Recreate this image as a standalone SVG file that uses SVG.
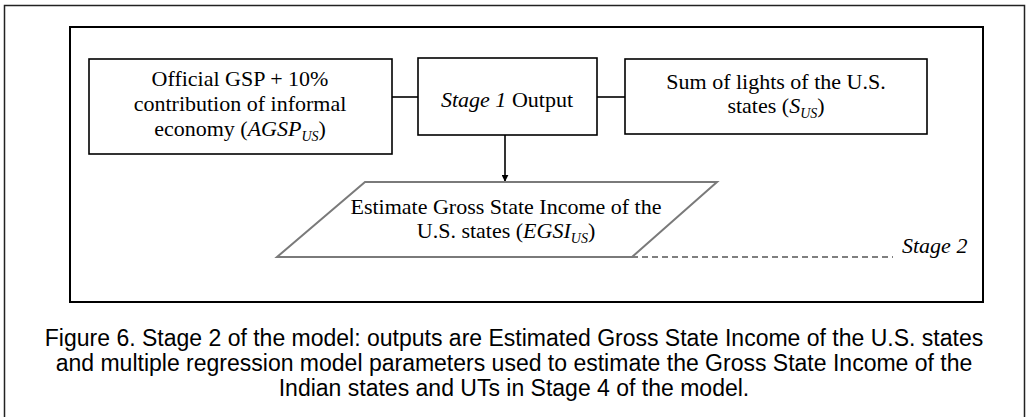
<svg xmlns="http://www.w3.org/2000/svg" width="1028" height="417" viewBox="0 0 1028 417">
<style>
.t{font-family:"Liberation Serif","Times New Roman",serif;font-size:22px;fill:#000;text-anchor:middle}
.i{font-style:italic}
.sub{font-style:italic;font-size:14px}
.cap{font-family:"Liberation Sans",Arial,sans-serif;font-size:23px;fill:#000;text-anchor:middle}
.box{fill:#fff;stroke:#000;stroke-width:1.6}
.ln{stroke:#000;stroke-width:1.6;fill:none}
</style>
<defs>
<marker id="arr" viewBox="0 0 10 10" refX="9" refY="5" markerWidth="7" markerHeight="7" markerUnits="userSpaceOnUse" orient="auto">
<path d="M0,0 L10,5 L0,10 z" fill="#000"/>
</marker>
</defs>
<rect width="1028" height="417" fill="#fff"/>
<g id="outer-frame"><path d="M4.5,420 V5.5 H1024.5 V420" fill="none" stroke="#222" stroke-width="1.5"/></g>
<g id="inner-frame"><rect x="70" y="27" width="913" height="275" fill="#fff" stroke="#000" stroke-width="2"/></g>
<g id="connectors">
<line class="ln" x1="392" y1="97" x2="418" y2="97"/>
<line class="ln" x1="597" y1="97" x2="625" y2="97"/>
<line class="ln" x1="505" y1="135" x2="505" y2="181" marker-end="url(#arr)"/>
<line x1="632" y1="257" x2="893" y2="257" stroke="#000" stroke-width="1.2" stroke-dasharray="6,4"/>
</g>
<g id="node-agsp">
<rect class="box" x="89" y="59" width="303" height="95"/>
<text class="t" x="240" y="86">Official GSP + 10%</text>
<text class="t" x="240" y="111">contribution of informal</text>
<text class="t" x="240" y="136">economy (<tspan class="i">AGSP</tspan><tspan class="sub" dy="5">US</tspan><tspan dy="-5">)</tspan></text>
</g>
<g id="node-stage1">
<rect class="box" x="418" y="58" width="179" height="77"/>
<text class="t" x="507" y="107"><tspan class="i">Stage 1</tspan> Output</text>
</g>
<g id="node-lights">
<rect class="box" x="625" y="59" width="302" height="75"/>
<text class="t" x="776" y="89">Sum of lights of the U.S.</text>
<text class="t" x="776" y="113">states (<tspan class="i">S</tspan><tspan class="sub" dy="5">US</tspan><tspan dy="-5">)</tspan></text>
</g>
<g id="node-egsi">
<polygon points="365,182 717,182 632,257 277,257" fill="#fff" stroke="#7a7a7a" stroke-width="2"/>
<text class="t" x="506" y="214">Estimate Gross State Income of the</text>
<text class="t" x="506" y="238">U.S. states (<tspan class="i">EGSI</tspan><tspan class="sub" dy="5">US</tspan><tspan dy="-5">)</tspan></text>
</g>
<g id="label-stage2">
<text class="t i" x="902" y="253" style="text-anchor:start">Stage 2</text>
</g>
<g id="caption">
<text class="cap" x="514" y="346">Figure 6. Stage 2 of the model: outputs are Estimated Gross State Income of the U.S. states</text>
<text class="cap" x="514" y="371">and multiple regression model parameters used to estimate the Gross State Income of the</text>
<text class="cap" x="514" y="396">Indian states and UTs in Stage 4 of the model.</text>
</g>
</svg>
